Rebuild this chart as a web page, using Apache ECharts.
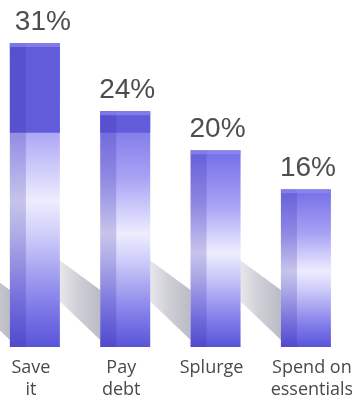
<!DOCTYPE html>
<html>
<head>
<meta charset="utf-8">
<script src="https://cdn.jsdelivr.net/npm/echarts@6/dist/echarts.min.js"></script>
<style>
html,body{margin:0;padding:0;background:#fff;}
#c{width:352px;height:399px;}
</style>
</head>
<body>
<div id="c"></div>
<script>
var categories = ['Save\nit', 'Pay\ndebt', 'Splurge', 'Spend on\nessentials'];
var values = [31, 24, 20, 16];
var valueLabels = ['31%', '24%', '20%', '16%'];

var chart = echarts.init(document.getElementById('c'), null, {renderer: 'canvas'});
var G = echarts.graphic;

function shadowItem(params, api) {
  var i = api.value(0);
  var base = api.coord([i, 0]);
  var w = 50;
  var L = base[0] - w / 2;
  var B = base[1];
  return {
    type: 'polygon',
    shape: {points: [[L - 45, B - 88], [L, B - 55], [L, B - 5], [L - 45, B - 48]]},
    style: {
      fill: new G.LinearGradient(0, 0, 1, 0, [
        {offset: 0, color: 'rgba(165,165,180,0.2)'},
        {offset: 0.5, color: 'rgba(160,160,175,0.5)'},
        {offset: 1, color: 'rgba(150,150,165,0.65)'}
      ])
    },
    silent: true
  };
}

function barItem(params, api) {
  var i = api.value(0);
  var v = api.value(1);
  var top = api.coord([i, v]);
  var base = api.coord([i, 0]);
  var w = 50;
  var x = top[0] - w / 2;
  var y = top[1];
  var h = base[1] - top[1] + 2;
  var darkLimit = api.coord([i, 21.8])[1];
  var children = [];
  children.push({
    type: 'rect',
    shape: {x: x, y: y, width: w, height: h},
    style: {
      fill: new G.LinearGradient(0, 0, 0, 1, [
        {offset: 0, color: '#736de7'},
        {offset: 0.28, color: '#a8a2f5'},
        {offset: 0.52, color: '#ededff'},
        {offset: 0.64, color: '#cccaf9'},
        {offset: 0.85, color: '#8581ea'},
        {offset: 1, color: '#5953d9'}
      ])
    }
  });
  if (y < darkLimit) {
    children.push({
      type: 'rect',
      shape: {x: x, y: y, width: w, height: darkLimit - y},
      style: {fill: '#625cdb'}
    });
  }
  children.push({
    type: 'rect',
    shape: {x: x, y: y, width: 16, height: h},
    style: {fill: 'rgba(45,35,160,0.2)'}
  });
  children.push({
    type: 'rect',
    shape: {x: x, y: y, width: w, height: 4},
    style: {fill: 'rgba(150,145,240,0.6)'}
  });
  children.push({
    type: 'text',
    style: {
      text: valueLabels[params.dataIndex],
      x: top[0] + (params.dataIndex === 0 ? 8 : 2),
      y: y - 7,
      align: 'center',
      verticalAlign: 'bottom',
      fill: '#4d4d4d',
      font: '28px "Liberation Sans", Arial, sans-serif'
    }
  });
  children.push({
    type: 'text',
    style: {
      text: categories[params.dataIndex],
      x: base[0] - 4 + (params.dataIndex === 3 ? 10 : 0),
      y: base[1] + 12,
      align: 'center',
      verticalAlign: 'top',
      fill: '#4a4a4a',
      font: '18px "Open Sans", sans-serif',
      lineHeight: 22
    }
  });
  return {type: 'group', children: children};
}

var data = values.map(function (v, i) { return [i, v]; });

chart.setOption({
  animation: false,
  backgroundColor: '#ffffff',
  grid: {left: 0, right: 1, top: 43, bottom: 54},
  xAxis: {
    type: 'value',
    min: -0.386,
    max: 3.499,
    show: false,
    splitLine: {show: false}
  },
  yAxis: {
    type: 'value',
    min: 0,
    max: 31,
    show: false,
    splitLine: {show: false}
  },
  series: [
    {type: 'custom', renderItem: shadowItem, data: data, z: 1, silent: true, clip: false},
    {type: 'custom', renderItem: barItem, data: data, z: 2, clip: false}
  ]
});
</script>
</body>
</html>
